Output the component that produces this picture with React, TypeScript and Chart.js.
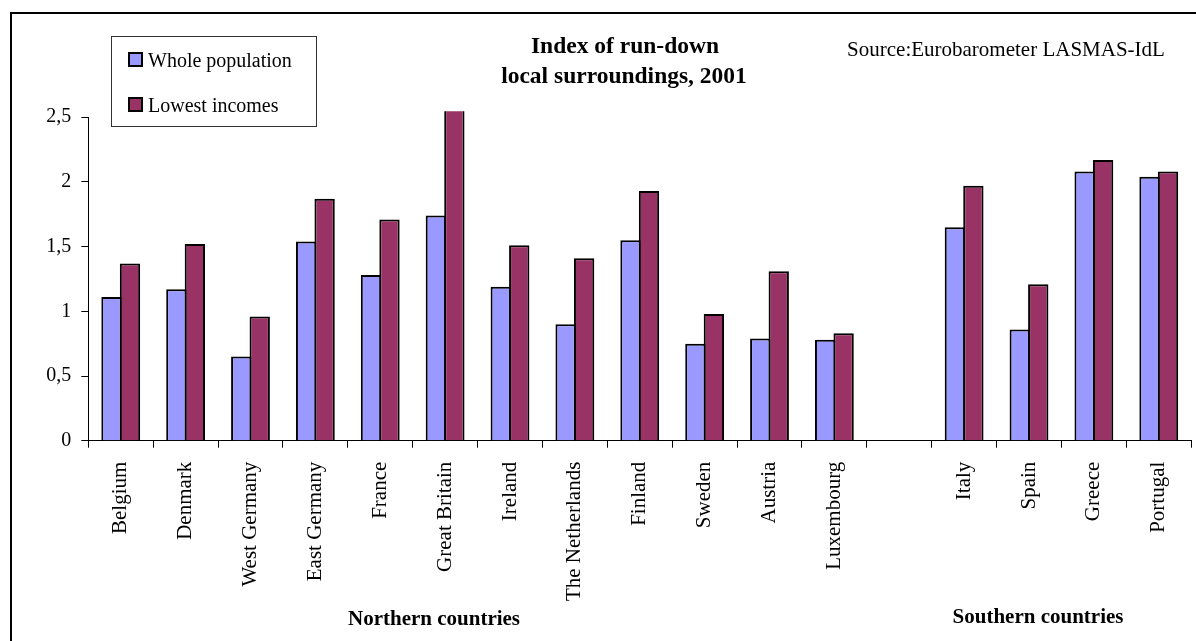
import React, { useEffect, useRef } from 'react';
import { Chart, registerables } from 'chart.js';

Chart.register(...registerables);

const categories = [
  'Belgium', 'Denmark', 'West Germany', 'East Germany', 'France', 'Great Britain',
  'Ireland', 'The Netherlands', 'Finland', 'Sweden', 'Austria', 'Luxembourg',
  '', 'Italy', 'Spain', 'Greece', 'Portugal',
];
const wholePopulation = [1.11, 1.17, 0.65, 1.54, 1.28, 1.74, 1.19, 0.9, 1.55, 0.75, 0.79, 0.78, null, 1.65, 0.86, 2.08, 2.04];
const lowestIncomes = [1.37, 1.52, 0.96, 1.87, 1.71, 2.6, 1.51, 1.41, 1.93, 0.98, 1.31, 0.83, null, 1.97, 1.21, 2.17, 2.08];
const seriesNames = ['Whole population', 'Lowest incomes'];
const seriesColors = ['#9999FF', '#993366'];
const yTicks = [0, 0.5, 1, 1.5, 2, 2.5];
const titleLines = ['Index of run-down', 'local surroundings, 2001'];
const sourceText = 'Source:Eurobarometer LASMAS-IdL';
const groupLabels = ['Northern countries', 'Southern countries'];

const FAMILY = "'Liberation Serif', 'Times New Roman', serif";

const decorPlugin = {
  id: 'decor',
  afterDraw(chart: any) {
    const ctx = chart.ctx as CanvasRenderingContext2D;
    ctx.save();
    ctx.fillStyle = '#000';
    ctx.textBaseline = 'alphabetic';

    // Title
    ctx.textAlign = 'center';
    ctx.font = `bold 23.5px ${FAMILY}`;
    ctx.fillText(titleLines[0], 625, 53);
    ctx.fillText(titleLines[1], 624, 83);

    // Source
    ctx.font = `21px ${FAMILY}`;
    ctx.fillText(sourceText, 1006, 56);

    // Legend box
    ctx.fillStyle = '#fff';
    ctx.fillRect(112, 37, 205, 90);
    ctx.strokeStyle = '#333';
    ctx.lineWidth = 1;
    ctx.strokeRect(111.5, 36.5, 205, 90);

    const rows = [52, 97];
    ctx.font = `20px ${FAMILY}`;
    ctx.textAlign = 'left';
    seriesNames.forEach((name, i) => {
      const y = rows[i];
      ctx.fillStyle = '#000';
      ctx.fillRect(128, y, 15, 15);
      ctx.fillStyle = seriesColors[i];
      ctx.fillRect(130, y + 2, 11, 11);
      ctx.fillStyle = '#000';
      ctx.fillText(name, 148, y + 15);
    });

    // Group labels
    ctx.textAlign = 'center';
    ctx.font = `bold 21px ${FAMILY}`;
    ctx.fillText(groupLabels[0], 434, 625);
    ctx.fillText(groupLabels[1], 1038, 622.5);

    ctx.restore();
  },
};

export default function App() {
  const canvasRef = useRef<HTMLCanvasElement | null>(null);

  useEffect(() => {
    const canvas = canvasRef.current;
    if (!canvas) return;
    const barStyle = {
      borderColor: '#000',
      borderWidth: 2,
      borderSkipped: 'start',
      inflateAmount: 0,
      categoryPercentage: 0.57,
      barPercentage: 1.1,
      clip: { left: 0, top: 6, right: 0, bottom: 0 },
    };
    const chart = new Chart(canvas, {
      type: 'bar',
      data: {
        labels: categories,
        datasets: [
          { label: seriesNames[0], data: wholePopulation, backgroundColor: seriesColors[0], ...barStyle },
          { label: seriesNames[1], data: lowestIncomes, backgroundColor: seriesColors[1], ...barStyle },
        ],
      } as any,
      options: {
        responsive: false,
        animation: false,
        events: [],
        layout: { padding: { left: 28.3, right: 1.3, top: 117.2, bottom: 0 } },
        plugins: {
          legend: { display: false },
          title: { display: false },
          tooltip: { enabled: false },
        },
        scales: {
          x: {
            type: 'category',
            offset: true,
            grid: {
              display: true,
              drawOnChartArea: false,
              drawTicks: true,
              tickLength: 7,
              color: '#000',
              lineWidth: 1,
              offset: true,
            },
            border: { display: true, color: '#000', width: 1 },
            ticks: {
              autoSkip: false,
              minRotation: 90,
              maxRotation: 90,
              padding: 14,
              color: '#000',
              font: { family: FAMILY, size: 21 },
            },
            afterFit(s: any) {
              s.height = 200.3;
            },
          },
          y: {
            min: 0,
            max: 2.5,
            afterBuildTicks(s: any) {
              s.ticks = yTicks.map((v) => ({ value: v }));
            },
            ticks: {
              padding: 10,
              color: '#000',
              font: { family: FAMILY, size: 20 },
              callback: (v: any) => String(v).replace('.', ','),
            },
            grid: {
              display: true,
              drawOnChartArea: false,
              drawTicks: true,
              tickLength: 7,
              color: '#000',
              lineWidth: 1,
            },
            border: { display: true, color: '#000', width: 1 },
            afterFit(s: any) {
              s.width = 60;
            },
          },
        },
      } as any,
      plugins: [decorPlugin],
    });

    const fonts = (document as any).fonts;
    if (fonts && fonts.load) {
      Promise.all([
        fonts.load(`20px 'Liberation Serif'`),
        fonts.load(`bold 20px 'Liberation Serif'`),
      ]).then(() => {
        try { chart.update(); } catch (e) { /* ignore */ }
      });
    }

    return () => chart.destroy();
  }, []);

  return (
    <div
      style={{
        position: 'absolute',
        left: 0,
        top: 0,
        width: 1196,
        height: 641,
        overflow: 'hidden',
        background: '#fff',
      }}
    >
      <div
        style={{
          position: 'absolute',
          left: 10,
          top: 12,
          width: 3000,
          height: 3000,
          borderLeft: '2px solid #000',
          borderTop: '2px solid #000',
        }}
      />
      <canvas
        ref={canvasRef}
        width={1198}
        height={641}
        style={{ position: 'absolute', left: 0, top: 0, width: 1198, height: 641 }}
      />
    </div>
  );
}
